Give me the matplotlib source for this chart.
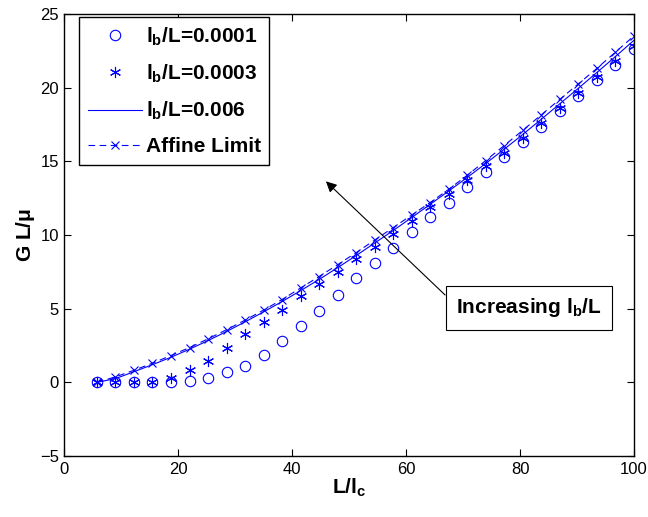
import matplotlib
matplotlib.use("Agg")
import matplotlib.pyplot as plt

plt.rcParams["font.family"] = ["Liberation Sans", "DejaVu Sans"]
plt.rcParams["mathtext.fontset"] = "custom"
plt.rcParams["mathtext.rm"] = "Liberation Sans:bold"
plt.rcParams["mathtext.it"] = "Liberation Sans:bold"
plt.rcParams["mathtext.bf"] = "Liberation Sans:bold"

# L/l_c sample points
l_ratio = [5.7, 8.95, 12.2, 15.45, 18.7, 21.95, 25.2, 28.45, 31.7, 34.95,
           38.2, 41.45, 44.7, 47.95, 51.2, 54.45, 57.7, 60.95, 64.2, 67.45,
           70.7, 73.95, 77.2, 80.45, 83.7, 86.95, 90.2, 93.45, 96.7, 99.95]

# G L / mu for each bending length
g_0001 = [0, 0, 0, 0, 0.03, 0.12, 0.3, 0.67, 1.12, 1.87,
          2.78, 3.8, 4.86, 5.95, 7.06, 8.1, 9.15, 10.2, 11.2, 12.2,
          13.25, 14.25, 15.3, 16.3, 17.33, 18.4, 19.44, 20.5, 21.55, 22.6]
g_0003 = [0, 0, 0, 0, 0.3, 0.83, 1.46, 2.3, 3.25, 4.1,
          4.93, 5.84, 6.65, 7.47, 8.38, 9.17, 10.1, 10.94, 11.9, 12.8,
          13.7, 14.66, 15.56, 16.6, 17.6, 18.65, 19.65, 20.7, 21.8, 22.85]
g_006 = [0, 0.25, 0.72, 1.2, 1.7, 2.25, 2.83, 3.45, 4.1, 4.78,
         5.48, 6.22, 6.98, 7.78, 8.6, 9.45, 10.3, 11.18, 12.08, 12.98,
         13.9, 14.85, 15.82, 16.82, 17.85, 18.9, 19.95, 21.02, 22.1, 23.2]
g_affine = [0, 0.37, 0.82, 1.3, 1.82, 2.36, 2.95, 3.57, 4.22, 4.9,
            5.62, 6.4, 7.18, 7.98, 8.8, 9.65, 10.5, 11.35, 12.2, 13.1,
            14.05, 15.05, 16.07, 17.1, 18.15, 19.2, 20.25, 21.3, 22.4, 23.5]

blue = "#0000ff"

fig = plt.figure(figsize=(6.48, 5.17), dpi=100)
ax = fig.add_axes([0.0995, 0.118, 0.879, 0.855])

ax.plot(l_ratio, g_0001, linestyle="none", marker="o", markersize=7.5,
        markerfacecolor="none", markeredgecolor=blue, markeredgewidth=0.8,
        label=r"l$_{b}$/L=0.0001")
ax.plot(l_ratio, g_0003, linestyle="none", marker=(6, 2, 0), markersize=8,
        color=blue, markeredgewidth=0.8, label=r"l$_{b}$/L=0.0003")
ax.plot(l_ratio, g_006, linestyle="-", color=blue, linewidth=0.8,
        label=r"l$_{b}$/L=0.006")
ax.plot(l_ratio, g_affine, linestyle=(0, (6, 4)), color=blue, linewidth=0.8,
        marker="x", markersize=6, markeredgewidth=0.8, label="Affine Limit")

ax.set_xlim(0, 100)
ax.set_ylim(-5, 25)
ax.set_xticks([0, 20, 40, 60, 80, 100])
ax.set_yticks([-5, 0, 5, 10, 15, 20, 25])
ax.tick_params(direction="in", top=True, right=True, labelsize=12, length=5,
               width=0.8, pad=4)
for sp in ax.spines.values():
    sp.set_linewidth(1.0)

ax.set_xlabel(r"L/l$_{c}$", fontsize=15, fontweight="bold", labelpad=0)
ax.set_ylabel(r"G L/$\mu$", fontsize=15, fontweight="bold", labelpad=2)

leg = ax.legend(loc="upper left", bbox_to_anchor=(0.026, 0.993),
                borderaxespad=0, fancybox=False, edgecolor="black",
                framealpha=1, handlelength=2.6, handletextpad=0.2,
                labelspacing=0.72, borderpad=0.4,
                prop={"weight": "bold", "size": 15})
leg.get_frame().set_linewidth(1.0)

ax.annotate(r"Increasing l$_{b}$/L", xy=(45.9, 13.64), xytext=(81.5, 5.07),
            fontsize=15, fontweight="bold", ha="center", va="center",
            bbox=dict(boxstyle="square,pad=0.5", facecolor="white",
                      edgecolor="black", linewidth=0.8),
            arrowprops=dict(arrowstyle="-|>", color="black", linewidth=0.8,
                            mutation_scale=16, shrinkA=0, shrinkB=0,
                            relpos=(0, 0.6)))

fig.savefig("out.png", dpi=100, facecolor="white")
